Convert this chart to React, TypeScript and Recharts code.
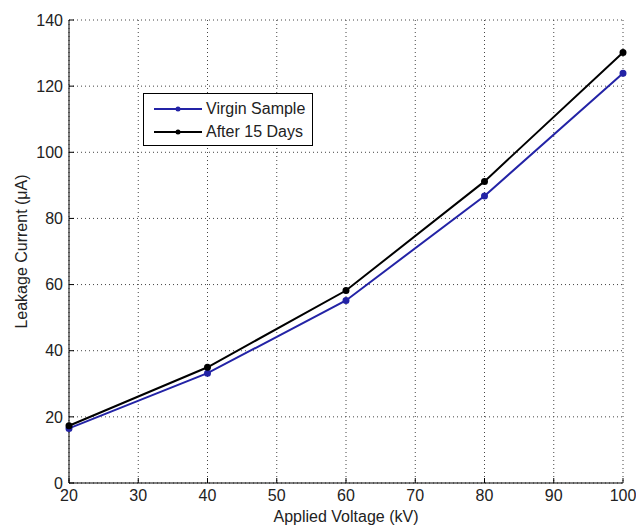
import { CartesianGrid, Line, LineChart, XAxis, YAxis } from "recharts"

const voltage = [20, 40, 60, 80, 100]
const virginSample = [16.5, 33.2, 55.2, 86.8, 123.9]
const after15Days = [17.3, 35.0, 58.2, 91.2, 130.2]
const xTicks = [20, 30, 40, 50, 60, 70, 80, 90, 100]
const yTicks = [0, 20, 40, 60, 80, 100, 120, 140]

const data = voltage.map((v, i) => ({ v, virgin: virginSample[i], after: after15Days[i] }))

const font = "'Liberation Sans', Arial, sans-serif"
const blue = "#2323a6"
const textColor = "#222"

function LegendBox() {
  const rows = [
    { name: "Virgin Sample", color: blue },
    { name: "After 15 Days", color: "#000" },
  ]
  return (
    <div
      style={{
        position: "absolute",
        left: 143,
        top: 93,
        border: "1px solid #000",
        background: "#fff",
        width: 168,
        height: 51,
        fontFamily: font,
        fontSize: 16,
      }}
    >
      {rows.map((r, i) => (
        <div key={r.name} style={{ display: "flex", alignItems: "center", height: 23, marginTop: i === 0 ? 3 : 0 }}>
          <svg width={64} height={10} style={{ marginLeft: 8 }}>
            <line x1={2} y1={5} x2={50} y2={5} stroke={r.color} strokeWidth={2} />
            <circle cx={26} cy={5} r={2.5} fill={r.color} />
          </svg>
          <span style={{ marginLeft: -10, color: textColor, lineHeight: "16px" }}>{r.name}</span>
        </div>
      ))}
    </div>
  )
}

export default function App() {
  return (
    <div style={{ position: "fixed", left: 0, top: 0, width: 636, height: 529, background: "#fff" }}>
      <LineChart width={636} height={529} data={data} margin={{ top: 20, right: 13, left: 0, bottom: 0 }}>
        <CartesianGrid stroke="#444" strokeDasharray="1 3" />
        <XAxis
          dataKey="v"
          type="number"
          domain={[20, 100]}
          ticks={xTicks}
          height={46}
          stroke="#000"
          tickSize={-5}
          tickMargin={12}
          tick={{ fill: textColor, fontSize: 16, fontFamily: font }}
          label={{
            content: (p: any) => (
              <text
                x={p.viewBox.x + p.viewBox.width / 2}
                y={p.viewBox.y + 39}
                textAnchor="middle"
                fill={textColor}
                fontSize={16}
                fontFamily={font}
              >
                Applied Voltage (kV)
              </text>
            ),
          }}
        />
        <XAxis
          xAxisId="top"
          orientation="top"
          type="number"
          domain={[20, 100]}
          ticks={xTicks}
          height={0}
          stroke="#000"
          tickSize={-5}
          tick={false}
        />
        <YAxis
          type="number"
          domain={[0, 140]}
          ticks={yTicks}
          width={69}
          stroke="#000"
          tickSize={-5}
          tickMargin={11}
          tick={{ fill: textColor, fontSize: 16, fontFamily: font }}
          label={{
            content: (p: any) => {
              const cx = p.viewBox.x + 27
              const cy = p.viewBox.y + p.viewBox.height / 2
              return (
                <text
                  x={cx}
                  y={cy}
                  transform={`rotate(-90 ${cx} ${cy})`}
                  textAnchor="middle"
                  fill={textColor}
                  fontSize={16}
                  fontFamily={font}
                >
                  Leakage Current (μA)
                </text>
              )
            },
          }}
        />
        <YAxis
          yAxisId="right"
          orientation="right"
          type="number"
          domain={[0, 140]}
          ticks={yTicks}
          width={0}
          stroke="#000"
          tickSize={-5}
          tick={false}
        />
        <Line
          dataKey="virgin"
          stroke={blue}
          strokeWidth={2}
          dot={{ r: 2.5, fill: blue, stroke: blue }}
          isAnimationActive={false}
        />
        <Line
          dataKey="after"
          stroke="#000"
          strokeWidth={2}
          dot={{ r: 2.5, fill: "#000", stroke: "#000" }}
          isAnimationActive={false}
        />
      </LineChart>
      <LegendBox />
    </div>
  )
}
